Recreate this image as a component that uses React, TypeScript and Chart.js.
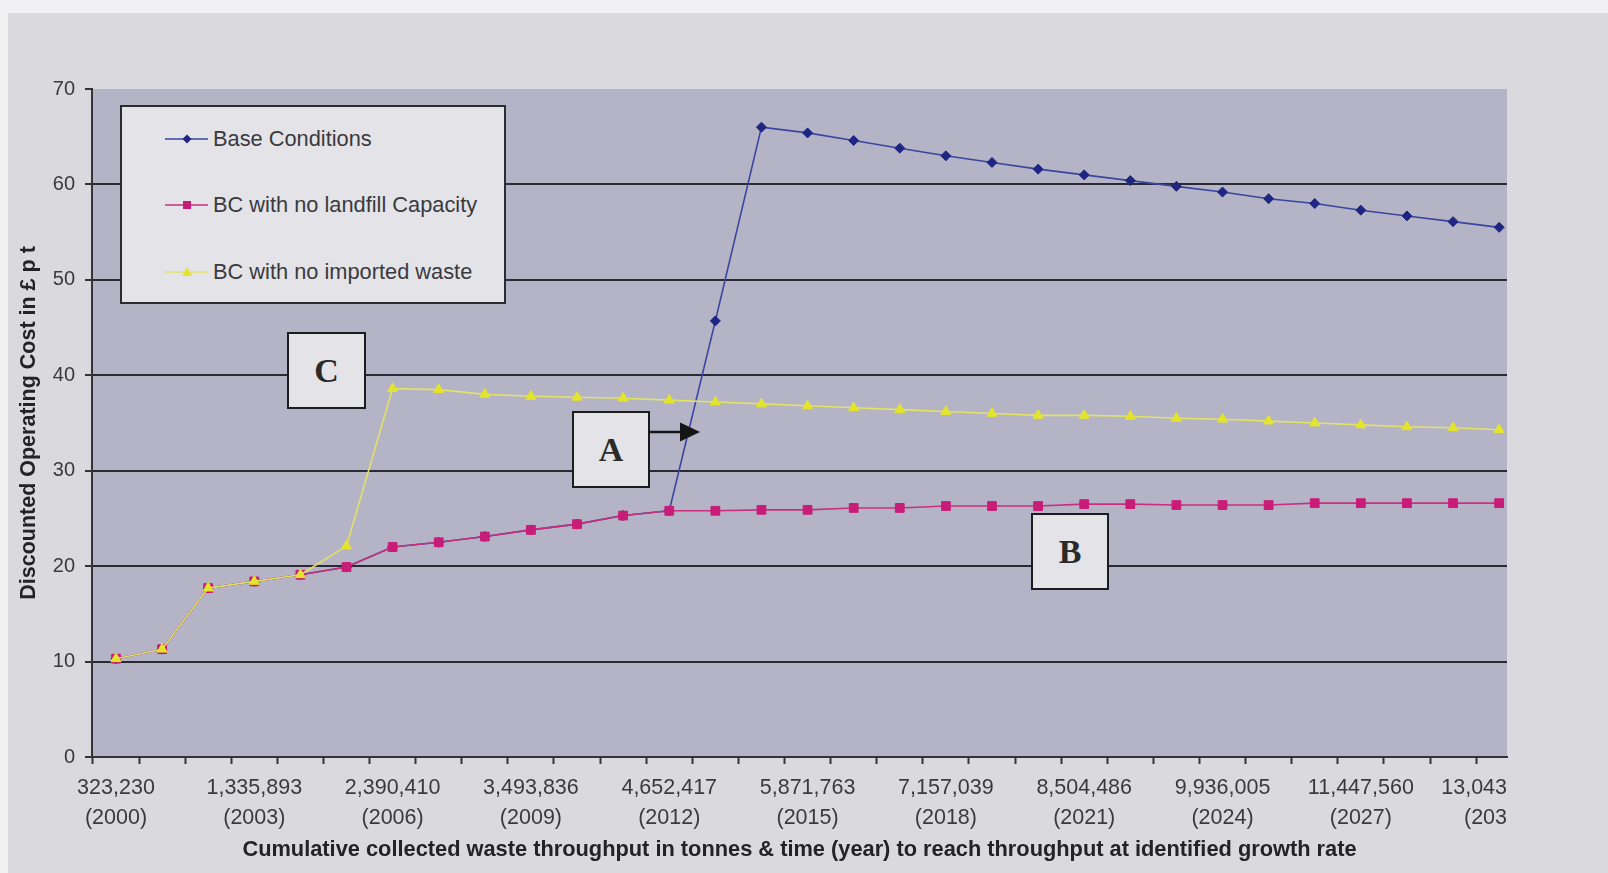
import { useEffect, useRef } from 'react';
import { Chart, registerables } from 'chart.js';

Chart.register(...registerables);

// One point per year, 2000 to 2030
const YEARS = [
  2000, 2001, 2002, 2003, 2004, 2005, 2006, 2007, 2008, 2009, 2010,
  2011, 2012, 2013, 2014, 2015, 2016, 2017, 2018, 2019, 2020,
  2021, 2022, 2023, 2024, 2025, 2026, 2027, 2028, 2029, 2030,
];

// Axis labels shown every third year (the last one is cut off at the plot edge)
const TONNE_LABELS = [
  '323,230', '1,335,893', '2,390,410', '3,493,836', '4,652,417', '5,871,763',
  '7,157,039', '8,504,486', '9,936,005', '11,447,560', '13,043',
];
const YEAR_LABELS = [
  '(2000)', '(2003)', '(2006)', '(2009)', '(2012)', '(2015)',
  '(2018)', '(2021)', '(2024)', '(2027)', '(203',
];
const LABEL_EVERY = 3;

const Y_TICKS = [0, 10, 20, 30, 40, 50, 60, 70];

const SERIES_NAMES = ['Base Conditions', 'BC with no landfill Capacity', 'BC with no imported waste'];

// Discounted operating cost, £ per tonne
const BASE_CONDITIONS = [
  10.3, 11.3, 17.7, 18.4, 19.1, 19.9, 22.0, 22.5, 23.1, 23.8, 24.4,
  25.3, 25.8, 45.7, 66.0, 65.4, 64.6, 63.8, 63.0, 62.3, 61.6,
  61.0, 60.4, 59.8, 59.2, 58.5, 58.0, 57.3, 56.7, 56.1, 55.5,
];
const NO_LANDFILL = [
  10.3, 11.3, 17.7, 18.4, 19.1, 19.9, 22.0, 22.5, 23.1, 23.8, 24.4,
  25.3, 25.8, 25.8, 25.9, 25.9, 26.1, 26.1, 26.3, 26.3, 26.3,
  26.5, 26.5, 26.4, 26.4, 26.4, 26.6, 26.6, 26.6, 26.6, 26.6,
];
const NO_IMPORT = [
  10.3, 11.3, 17.7, 18.4, 19.1, 22.1, 38.6, 38.5, 38.0, 37.8, 37.7,
  37.6, 37.4, 37.2, 37.0, 36.8, 36.6, 36.4, 36.2, 36.0, 35.8,
  35.8, 35.7, 35.5, 35.4, 35.2, 35.0, 34.8, 34.6, 34.5, 34.3,
];

const X_TITLE = 'Cumulative collected waste throughput in tonnes & time (year) to reach throughput at identified growth rate';
const Y_TITLE = 'Discounted Operating Cost in £ p t';

const SANS = '"Liberation Sans", Arial, sans-serif';
const SERIF = '"Liberation Serif", "Times New Roman", serif';

const BLUE_LINE = '#3a45a0';
const BLUE_MARK = '#1f2582';
const PINK_LINE = '#c8307f';
const PINK_MARK = '#c91c78';
const YELLOW_LINE = '#e2e266';
const YELLOW_MARK = '#e4e42c';

const PLOT_FILL = '#b4b4c6';
const GRID = '#2a2a32';
const AXIS = '#333338';
const TEXT = '#3a3a3e';

const toPoints = (values: number[]) => values.map((y, i) => ({ x: i, y }));

const plotBackground = {
  id: 'plotBackground',
  beforeDraw(chart: any) {
    const { ctx, chartArea } = chart;
    ctx.save();
    ctx.fillStyle = PLOT_FILL;
    ctx.fillRect(chartArea.left, chartArea.top, chartArea.right - chartArea.left, chartArea.bottom - chartArea.top);
    ctx.restore();
  },
};

function LegendSymbol({ kind }: { kind: number }) {
  const line = [BLUE_LINE, PINK_LINE, YELLOW_LINE][kind];
  const mark = [BLUE_MARK, PINK_MARK, YELLOW_MARK][kind];
  return (
    <svg width={43} height={14} style={{ display: 'block' }}>
      <line x1={0} y1={7} x2={43} y2={7} stroke={line} strokeWidth={1.6} />
      {kind === 0 && <polygon points="22,2.5 26.5,7 22,11.5 17.5,7" fill={mark} />}
      {kind === 1 && <rect x={18} y={3} width={8} height={8} fill={mark} />}
      {kind === 2 && <polygon points="22,2 27,11 17,11" fill={mark} />}
    </svg>
  );
}

function NoteBox({ letter, left, top, width, height }: { letter: string; left: number; top: number; width: number; height: number }) {
  return (
    <div
      style={{
        position: 'absolute', left, top, width, height, boxSizing: 'border-box',
        border: '2px solid #1c1c1c', background: '#e4e4e8',
        display: 'flex', alignItems: 'center', justifyContent: 'center',
        fontFamily: SERIF, fontWeight: 'bold', fontSize: 34, color: '#2a2a2a',
      }}
    >
      {letter}
    </div>
  );
}

export default function App() {
  const canvasRef = useRef<HTMLCanvasElement | null>(null);

  useEffect(() => {
    const canvas = canvasRef.current;
    if (!canvas) return;

    const chart = new Chart(canvas, {
      type: 'line',
      data: {
        datasets: [
          {
            label: SERIES_NAMES[0],
            data: toPoints(BASE_CONDITIONS),
            borderColor: BLUE_LINE,
            borderWidth: 1.6,
            pointStyle: 'rectRot',
            pointRadius: 5,
            pointBackgroundColor: BLUE_MARK,
            pointBorderColor: BLUE_MARK,
            pointBorderWidth: 1,
            tension: 0,
            order: 3,
          },
          {
            label: SERIES_NAMES[1],
            data: toPoints(NO_LANDFILL),
            borderColor: PINK_LINE,
            borderWidth: 1.6,
            pointStyle: 'rect',
            pointRadius: 6.2,
            pointBackgroundColor: PINK_MARK,
            pointBorderColor: PINK_MARK,
            pointBorderWidth: 1,
            tension: 0,
            order: 2,
          },
          {
            label: SERIES_NAMES[2],
            data: toPoints(NO_IMPORT),
            borderColor: YELLOW_LINE,
            borderWidth: 1.6,
            pointStyle: 'triangle',
            pointRadius: 5.8,
            pointBackgroundColor: YELLOW_MARK,
            pointBorderColor: YELLOW_MARK,
            pointBorderWidth: 1,
            tension: 0,
            order: 1,
          },
        ],
      },
      options: {
        responsive: false,
        animation: false,
        events: [],
        layout: { padding: { left: 0, top: 89, right: 101, bottom: 0 } },
        plugins: {
          legend: { display: false },
          tooltip: { enabled: false },
        },
        scales: {
          x: {
            type: 'linear',
            min: -0.52,
            max: YEARS.length - 0.83,
            afterBuildTicks: (scale: any) => {
              const ticks: { value: number }[] = [];
              for (let i = 0; i < YEARS.length; i++) {
                ticks.push({ value: i - 0.5 });
                ticks.push({ value: i });
              }
              scale.ticks = ticks;
            },
            afterFit: (scale: any) => {
              scale.height = 116;
            },
            afterUpdate: (scale: any) => {
              // the final label is cut by the right edge of the plot: right-align it there
              const compute = Object.getPrototypeOf(scale)._computeLabelItems;
              if (typeof compute !== 'function') return;
              scale._computeLabelItems = function (area: any) {
                const items = compute.call(this, area);
                const last = items[items.length - 1];
                if (last && last.options && last.options.translation) {
                  last.options.textAlign = 'right';
                  last.options.translation = [this.right, last.options.translation[1]];
                }
                return items;
              };
            },
            grid: {
              drawOnChartArea: false,
              drawTicks: true,
              tickLength: 7,
              tickWidth: 2,
              tickColor: (ctx: any) => (Number.isInteger(ctx.tick?.value) ? 'rgba(0,0,0,0)' : AXIS),
            },
            border: { display: true, color: AXIS, width: 2 },
            ticks: {
              autoSkip: false,
              maxRotation: 0,
              minRotation: 0,
              padding: 9,
              color: TEXT,
              font: { family: SANS, size: 21.5, lineHeight: 1.395 },
              callback: (value: any) => {
                const v = Number(value);
                if (!Number.isInteger(v) || v % LABEL_EVERY !== 0) return '';
                const k = v / LABEL_EVERY;
                if (k >= TONNE_LABELS.length) return '';
                return [TONNE_LABELS[k], YEAR_LABELS[k]];
              },
            },
            title: {
              display: true,
              text: X_TITLE,
              color: '#232326',
              font: { family: SANS, size: 21.8, weight: 'bold' },
              padding: { top: 0, bottom: 10 },
            },
          },
          y: {
            min: Y_TICKS[0],
            max: Y_TICKS[Y_TICKS.length - 1],
            afterBuildTicks: (scale: any) => {
              scale.ticks = Y_TICKS.map((value) => ({ value }));
            },
            afterFit: (scale: any) => {
              scale.width = 92;
            },
            grid: {
              color: (ctx: any) => {
                const v = ctx.tick?.value;
                return v === Y_TICKS[0] || v === Y_TICKS[Y_TICKS.length - 1] ? 'rgba(0,0,0,0)' : GRID;
              },
              lineWidth: 2,
              drawTicks: true,
              tickLength: 7,
              tickWidth: 2,
              tickColor: AXIS,
            },
            border: { display: true, color: AXIS, width: 2 },
            ticks: {
              padding: 10,
              color: TEXT,
              font: { family: SANS, size: 20 },
            },
            title: {
              display: true,
              text: Y_TITLE,
              color: '#232326',
              font: { family: SANS, size: 21.5, weight: 'bold' },
              padding: { top: 16, bottom: 0 },
            },
          },
        },
      },
      plugins: [plotBackground],
    } as any);

    return () => chart.destroy();
  }, []);

  return (
    <div style={{ position: 'fixed', left: 0, top: 0, width: 1608, height: 873, background: '#f1f1f3', overflow: 'hidden' }}>
      <div style={{ position: 'absolute', left: 8, top: 13, right: 0, bottom: 0, background: '#d9d9de' }} />
      <canvas ref={canvasRef} width={1608} height={873} style={{ position: 'absolute', left: 0, top: 0, width: 1608, height: 873 }} />

      {/* legend */}
      <div
        style={{
          position: 'absolute', left: 120, top: 105, width: 386, height: 199, boxSizing: 'border-box',
          border: '2px solid #2c2c2e', background: '#e3e3e8',
        }}
      >
        {SERIES_NAMES.map((name, i) => (
          <div
            key={name}
            style={{
              position: 'absolute', left: 43, top: [32, 98, 165][i] - 14, height: 28,
              display: 'flex', alignItems: 'center', whiteSpace: 'nowrap',
            }}
          >
            <LegendSymbol kind={i} />
            <span style={{ marginLeft: 5, fontFamily: SANS, fontSize: 21.8, color: TEXT }}>{name}</span>
          </div>
        ))}
      </div>

      {/* annotation boxes */}
      <NoteBox letter="C" left={287} top={332} width={79} height={77} />
      <NoteBox letter="A" left={572} top={411} width={78} height={77} />
      <NoteBox letter="B" left={1031} top={513} width={78} height={77} />
      <svg width={56} height={24} style={{ position: 'absolute', left: 648, top: 420 }}>
        <line x1={0} y1={12} x2={34} y2={12} stroke="#151515" strokeWidth={2.5} />
        <polygon points="32,2.5 52,12 32,21.5" fill="#151515" />
      </svg>
    </div>
  );
}
